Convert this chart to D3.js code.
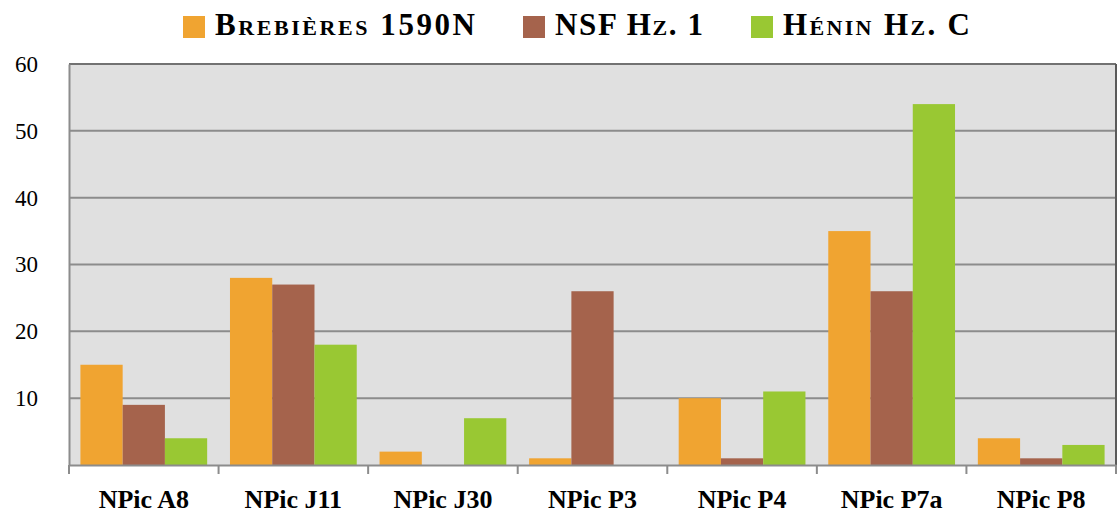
<!DOCTYPE html>
<html><head><meta charset="utf-8">
<script src="https://cdn.jsdelivr.net/npm/d3@7/dist/d3.min.js"></script>
<style>body{margin:0;background:#fff}svg{display:block}</style>
</head><body><svg id="c" width="1117" height="515"></svg>
<script>
const categories = ["NPic A8","NPic J11","NPic J30","NPic P3","NPic P4","NPic P7a","NPic P8"];
const seriesNames = ["Brebières 1590N","NSF Hz. 1","Hénin Hz. C"];
const brebieres = [15,28,2,1,10,35,4];
const nsf = [9,27,0,26,1,26,1];
const henin = [4,18,7,0,11,54,3];
const yTicks = [10,20,30,40,50,60];
const colors = ["#F0A431","#A5634C","#99C833"];
const seriesValues = [brebieres, nsf, henin];

const svg = d3.select("#c");
const m = {l:69, r:1116, t:64, b:465};
const x = d3.scaleBand().domain(categories).range([m.l, m.r]).paddingInner(0).paddingOuter(0);
const x1 = d3.scaleBand().domain(d3.range(3)).range([0, x.bandwidth()]).paddingOuter(0.27).paddingInner(0);
const y = d3.scaleLinear().domain([0,60]).range([m.b, m.t]);
const font = "Liberation Serif, Times New Roman, serif";

svg.append("rect").attr("x",m.l).attr("y",m.t).attr("width",m.r-m.l).attr("height",m.b-m.t).attr("fill","#E0E0E0");

svg.append("g").selectAll("line").data(yTicks).join("line")
  .attr("x1",m.l).attr("x2",m.r).attr("y1",d=>y(d)).attr("y2",d=>y(d))
  .attr("stroke",d=>d===60?"#727272":"#8C8C8C").attr("stroke-width",2);
svg.append("line").attr("x1",m.r).attr("x2",m.r).attr("y1",m.t).attr("y2",m.b).attr("stroke","#5a5a5a").attr("stroke-width",2);

const g = svg.append("g");
seriesValues.forEach((vals,si)=>{
  g.selectAll(null).data(vals).join("rect")
    .attr("x",(d,i)=>x(categories[i])+x1(si))
    .attr("width",x1.bandwidth())
    .attr("y",d=>y(d))
    .attr("height",d=>y(0)-y(d))
    .attr("fill",colors[si]);
});

const xAxis = d3.axisBottom(x).tickSize(0);
const xg = svg.append("g").attr("transform",`translate(0,${m.b})`).call(xAxis);
xg.attr("font-family",null).attr("font-size",null);
xg.select(".domain").attr("stroke","#8C8C8C").attr("stroke-width",2);
xg.selectAll("text").style("font-family",font).style("font-weight","bold").style("font-size","26px").attr("fill","#000").attr("dy",0).attr("y",43);
svg.append("g").selectAll("line").data(categories).join("line")
  .attr("x1",d=>x(d)).attr("x2",d=>x(d)).attr("y1",m.b).attr("y2",m.b+9)
  .attr("stroke","#8C8C8C").attr("stroke-width",2);
svg.append("line").attr("x1",m.r).attr("x2",m.r).attr("y1",m.b).attr("y2",m.b+9).attr("stroke","#8C8C8C").attr("stroke-width",2);

const yAxis = d3.axisLeft(y).tickValues(yTicks).tickSize(0).tickPadding(31);
const yg = svg.append("g").attr("transform",`translate(${m.l},0)`).call(yAxis);
yg.attr("font-family",null).attr("font-size",null);
yg.select(".domain").attr("stroke","#8C8C8C").attr("stroke-width",2);
yg.selectAll("text").style("font-family",font).style("font-size","23px").attr("fill","#000").attr("dy","0.32em");

const legX = [183, 523, 751];
const legW = [260, 148, 187];
const lg = svg.append("g");
seriesNames.forEach((n,i)=>{
  lg.append("rect").attr("x",legX[i]).attr("y",16).attr("width",22).attr("height",22).attr("fill",colors[i]);
  lg.append("text").attr("x",legX[i]+32).attr("y",35).text(n)
    .attr("textLength",legW[i]).attr("lengthAdjust","spacing")
    .style("font-family",font).style("font-weight","bold").style("font-size","31px")
    .style("font-variant","small-caps").attr("fill","#000");
});
</script></body></html>
